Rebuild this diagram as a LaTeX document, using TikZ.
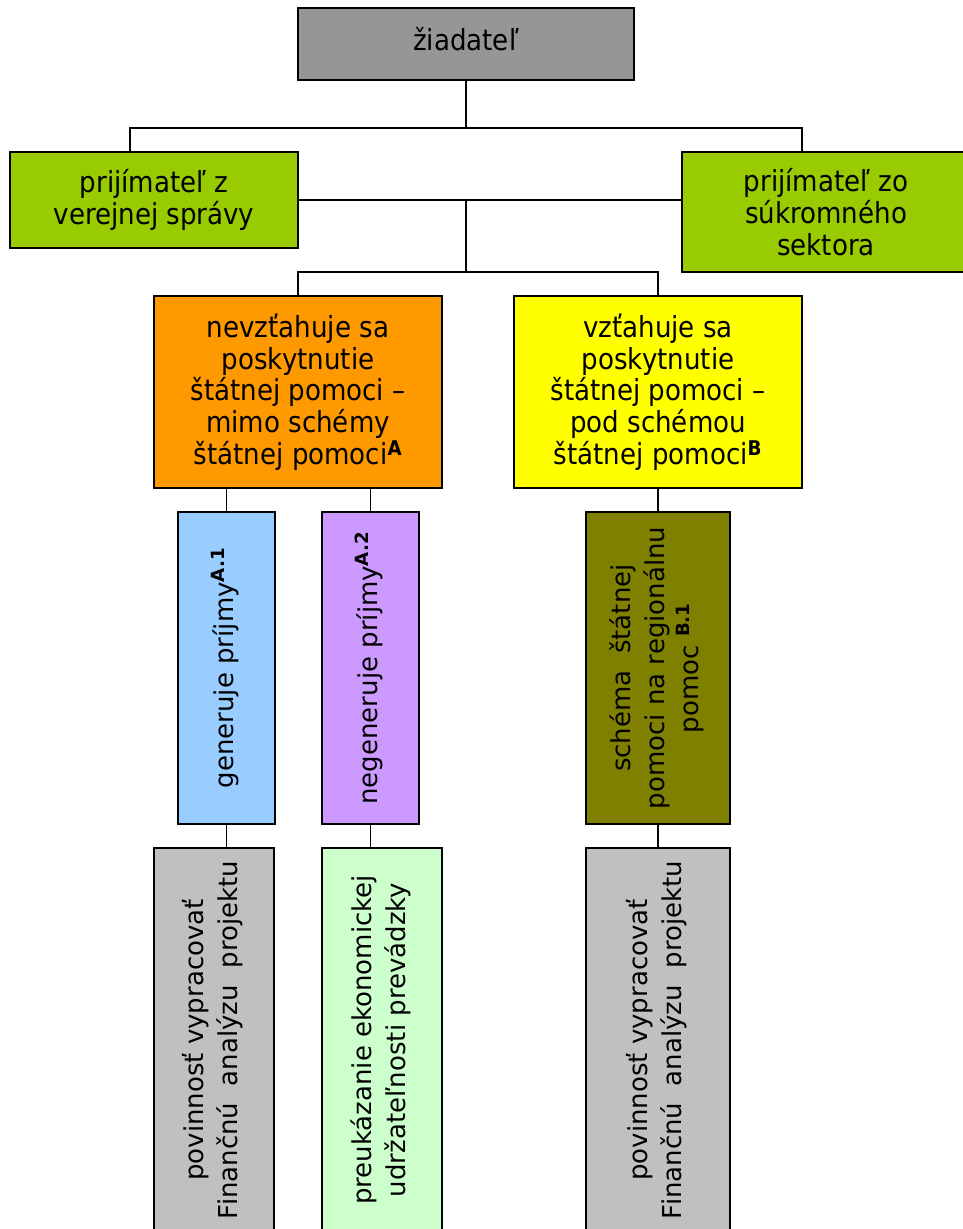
\documentclass[tikz,border=0pt]{standalone}
\usepackage{fontspec}
\usepackage{graphicx}
\setmainfont{DejaVu Sans}
\newfontfamily\tahoma{DejaVu Sans}[FakeStretch=0.9]
\usetikzlibrary{calc}
\definecolor{headgray}{HTML}{969696}
\definecolor{leaf}{HTML}{99CC00}
\definecolor{outside}{HTML}{FF9900}
\definecolor{inside}{HTML}{FFFF00}
\definecolor{income}{HTML}{99CCFF}
\definecolor{noincome}{HTML}{CC99FF}
\definecolor{regional}{HTML}{808000}
\definecolor{duty}{HTML}{C0C0C0}
\definecolor{sustain}{HTML}{CCFFCC}
\newcommand{\vtext}[1]{\rotatebox{90}{\begin{tabular}{@{}c@{}}#1\end{tabular}}}
\newcommand{\supmark}[1]{\textsuperscript{\bfseries #1}}

\begin{document}
\begin{tikzpicture}[x=1pt, y=-1pt,
  box/.style={draw=black, line width=2pt, rectangle, inner sep=0pt, align=center},
  hbox/.style={box, font=\tahoma\fontsize{29}{31.7}\selectfont},
  vbox/.style={box, font=\fontsize{26}{34}\selectfont},
  conn/.style={line width=1.5pt}]
\useasboundingbox (0,0) rectangle (962,1229);
% top levels
\node[hbox, fill=headgray, minimum width=336pt, minimum height=72pt, text height=22pt, text depth=10pt] (zdt) at (466,44) {žiadateľ};
\node[hbox, fill=leaf, minimum width=288pt, minimum height=96pt] (verejna) at (154,200) {prijímateľ z\\verejnej správy};
\node[hbox, fill=leaf, minimum width=288pt, minimum height=120pt] (sukromna) at (826,212) {prijímateľ zo\\súkromného\\sektora};
\node[hbox, fill=outside, minimum width=288pt, minimum height=192pt] (nevzt) at (298,392)
  {nevzťahuje sa\\poskytnutie\\štátnej pomoci –\\mimo schémy\\štátnej pomoci\supmark{A}};
\node[hbox, fill=inside, minimum width=288pt, minimum height=192pt] (vzt) at (658,392)
  {vzťahuje sa\\poskytnutie\\štátnej pomoci –\\pod schémou\\štátnej pomoci\supmark{B}};
% vertical boxes
\node[vbox, fill=income, minimum width=97pt, minimum height=312pt] (gen) at (226.5,668) {\vtext{generuje príjmy\supmark{A.1}}};
\node[vbox, fill=noincome, minimum width=97pt, minimum height=312pt] (negen) at (370.5,668) {\vtext{negeneruje príjmy\supmark{A.2}}};
\node[vbox, fill=regional, minimum width=144pt, minimum height=312pt] (schema) at (658,668)
  {\vtext{schéma \ štátnej\\pomoci na regionálnu\\pomoc \supmark{B.1}}};
\node[vbox, fill=duty, minimum width=120pt, minimum height=384pt] (fin1) at (214,1040)
  {\vtext{povinnosť vypracovať\\Finančnú \ analýzu \ projektu}};
\node[vbox, fill=sustain, minimum width=120pt, minimum height=384pt] (udrz) at (382,1040)
  {\vtext{preukázanie ekonomickej\\udržateľnosti prevádzky}};
\node[vbox, fill=duty, minimum width=144pt, minimum height=384pt] (fin2) at (658,1040)
  {\vtext{povinnosť vypracovať\\Finančnú \ analýzu \ projektu}};
% connectors
\coordinate (t1) at (466,128);
\coordinate (t2) at (466,200);
\coordinate (t3) at (466,272);
\draw[conn] (zdt.south) -- (t1);
\draw[conn] ([xshift=-24pt]verejna.north) |- (t1) -| ([xshift=-24pt]sukromna.north);
\draw[conn] (verejna.east) -- (verejna.east -| sukromna.west);
\draw[conn] (t2) -- (t3);
\draw[conn] (nevzt.north) |- (t3) -| (vzt.north);
\draw[conn] (nevzt.south -| gen.north) -- (gen.north);
\draw[conn] (nevzt.south -| negen.north) -- (negen.north);
\draw[conn] (vzt.south) -- (schema.north);
\draw[conn] (gen.south) -- (gen.south |- fin1.north);
\draw[conn] (negen.south) -- (negen.south |- udrz.north);
\draw[conn] (schema.south) -- (fin2.north);
\end{tikzpicture}
\end{document}
